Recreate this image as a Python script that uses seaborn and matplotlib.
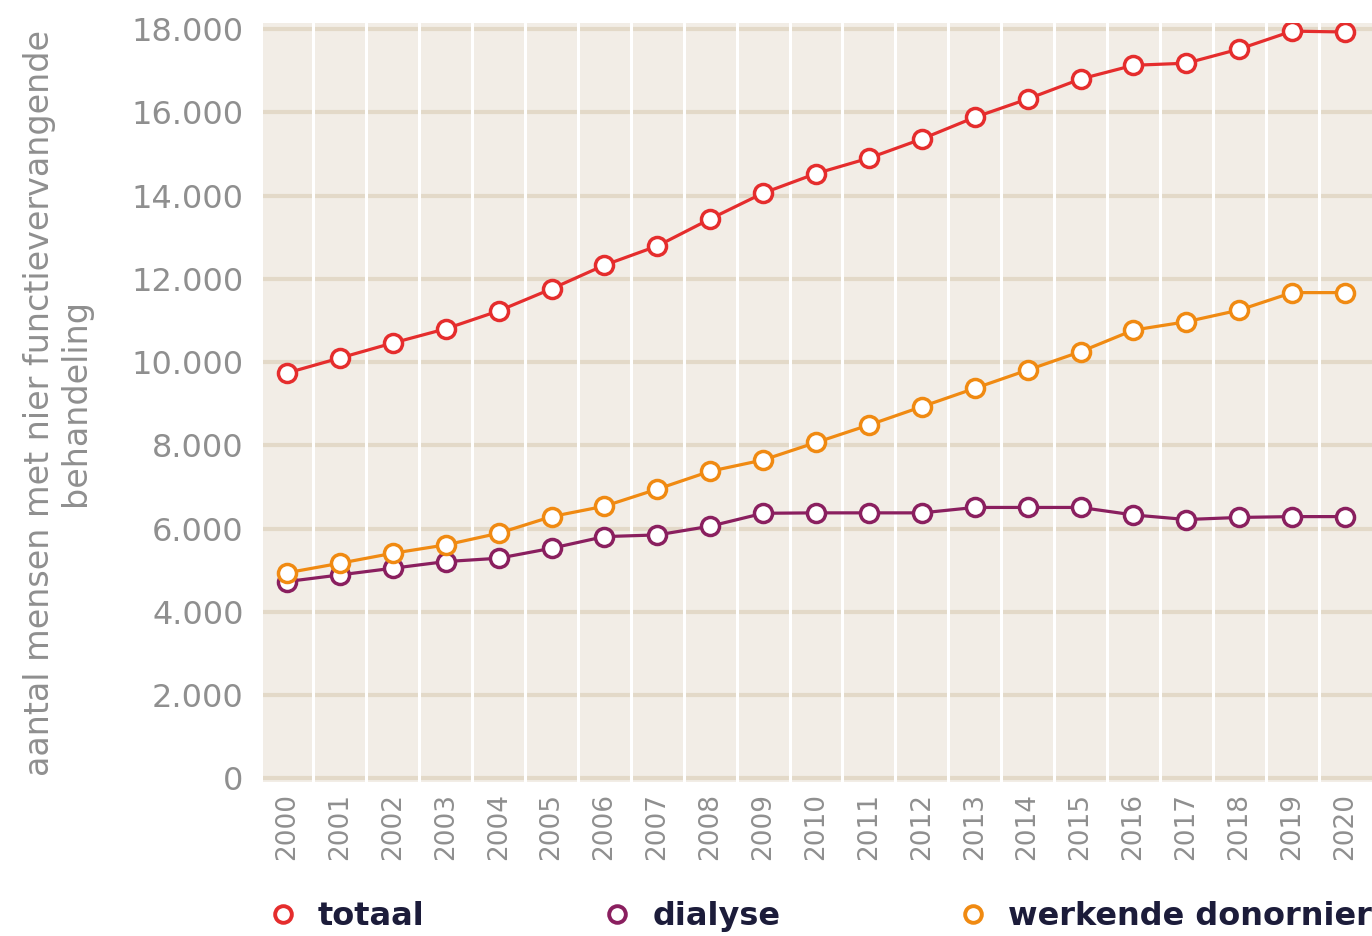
import pandas as pd
import seaborn as sns
import matplotlib.pyplot as plt
from matplotlib import ticker
from matplotlib.lines import Line2D

# data (aantal mensen)
jaren = list(range(2000, 2021))
totaal = [9740, 10100, 10460, 10800, 11230, 11760, 12330, 12790, 13440, 14060,
          14530, 14900, 15360, 15880, 16320, 16800, 17130, 17180, 17520, 17950, 17930]
dialyse = [4730, 4890, 5050, 5210, 5290, 5530, 5810, 5850, 6060, 6370,
           6380, 6380, 6380, 6510, 6510, 6510, 6330, 6220, 6270, 6290, 6290]
donornier = [4940, 5170, 5410, 5610, 5890, 6290, 6540, 6950, 7380, 7650,
             8070, 8490, 8930, 9370, 9810, 10250, 10770, 10970, 11250, 11670, 11670]
reeksen = ['totaal', 'dialyse', 'werkende donornier']
kleuren = ['#e52d2d', '#8a1f5f', '#f08a12']

df = pd.DataFrame({
    'jaar': jaren * 3,
    'aantal': totaal + dialyse + donornier,
    'reeks': [r for r in reeksen for _ in jaren],
})

sns.set_style('white')
plt.rcParams['font.family'] = ['DejaVu Sans']

tekst_grijs = '#8f8f8f'
fig = plt.figure(figsize=(13.72, 9.36), dpi=100)
ax = fig.add_axes([0.1917, 0.1645, 0.8083, 0.8109])
ax.set_facecolor('#f2ede6')

sns.lineplot(data=df, x='jaar', y='aantal', hue='reeks', hue_order=reeksen,
             palette=kleuren, marker='o', markersize=13, markerfacecolor='white',
             markeredgewidth=2.5, linewidth=2.3, legend=False, ax=ax)
for line in ax.lines:
    line.set_markeredgecolor(line.get_color())

ax.set_xlim(1999.546, 2020.51)
ax.set_ylim(-85, 18145)

ax.xaxis.set_major_locator(ticker.MultipleLocator(1))
ax.xaxis.set_minor_locator(ticker.FixedLocator([j + 0.5 for j in jaren[:-1]]))
ax.yaxis.set_major_locator(ticker.MultipleLocator(2000))
ax.yaxis.set_major_formatter(ticker.FuncFormatter(lambda v, p: f'{int(v):,}'.replace(',', '.')))

ax.set_axisbelow(True)
ax.yaxis.set_zorder(0.4)
ax.grid(False)
ax.yaxis.grid(True, which='major', color='#e3d9c8', linewidth=3)
ax.xaxis.grid(True, which='minor', color='white', linewidth=2.2)
ax.xaxis.grid(False, which='major')

for s in ax.spines.values():
    s.set_visible(False)

ax.tick_params(axis='both', which='both', length=0)
ax.tick_params(axis='y', labelsize=23, labelcolor=tekst_grijs, pad=14)
ax.tick_params(axis='x', labelsize=19, labelcolor=tekst_grijs, pad=8, labelrotation=90)

ax.set_xlabel('')
ax.set_ylabel('aantal mensen met nier functievervangende\nbehandeling',
              fontsize=24, color=tekst_grijs, linespacing=1.12)
ax.yaxis.set_label_coords(-0.1545, 0.5)

handles = [Line2D([], [], linestyle='none', marker='o', markersize=12,
                  markerfacecolor='white', markeredgecolor=k, markeredgewidth=2.8)
           for k in kleuren]
fig.legend(handles, reeksen, loc='center', ncol=3, mode='expand',
           bbox_to_anchor=(0.1968, 0.0, 0.8032, 0.042), frameon=False,
           borderaxespad=0, borderpad=0, handlelength=0.8, handletextpad=0.7,
           prop={'size': 23, 'weight': 'bold'}, labelcolor='#1c1c3a')

plt.savefig('out.png', dpi=100)
